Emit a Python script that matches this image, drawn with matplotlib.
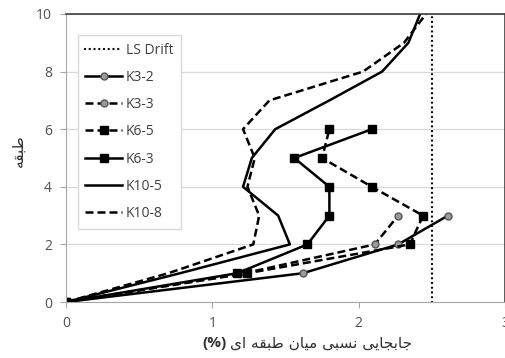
import matplotlib
matplotlib.use('Agg')
import matplotlib.pyplot as plt

# storey numbers and inter-storey drift (%)
floors_3 = [0, 1, 2, 3]
floors_6 = [0, 1, 2, 3, 4, 5, 6]
floors_10 = [0, 1, 2, 3, 4, 5, 6, 7, 8, 9, 10]

k3_2 = [0, 1.62, 2.27, 2.61]
k3_3 = [0, 1.22, 2.11, 2.27]
k6_5 = [0, 1.24, 2.35, 2.44, 2.09, 1.75, 1.80]
k6_3 = [0, 1.17, 1.65, 1.80, 1.80, 1.56, 2.09]
k10_5 = [0, 0.78, 1.53, 1.45, 1.21, 1.27, 1.43, 1.80, 2.16, 2.34, 2.42]
k10_8 = [0, 0.70, 1.28, 1.32, 1.24, 1.29, 1.21, 1.39, 2.03, 2.31, 2.46]
ls_drift = 2.5

x_ticks = [0, 1, 2, 3]
y_ticks = [0, 2, 4, 6, 8, 10]

# persian text, pre-shaped with presentation forms (matplotlib does no shaping)
jabejaei = "\uFE9F\uFE8E\uFE91\uFEA0\uFE8E\uFEF3\uFEF0"
nesbi = "\uFEE7\uFEB4\uFE92\uFEF0"
miyan = "\uFEE3\uFEF4\uFE8E\uFEE5"
tabaghe = "\uFEC3\uFE92\uFED8\uFEEA"
ei = "\uFE8D\uFEEF"
xlabel_fa = " ".join([jabejaei, nesbi, miyan, tabaghe, ei])[::-1]
ylabel_fa = tabaghe[::-1]

plt.rcParams['font.family'] = ['Open Sans', 'DejaVu Sans']

fig = plt.figure(figsize=(5.06, 3.58), dpi=100)
ax = fig.add_axes([0.1304, 0.1564, 0.8676, 0.8045])

lw = 1.8
dash = (0, (3.2, 1.6))
ax.plot([ls_drift, ls_drift], [0, 10], color='black', lw=1.7,
        linestyle=(0, (0.01, 2.0)), dash_capstyle='round', label='LS Drift')
ax.plot(k3_2, floors_3, color='black', lw=lw, marker='o', ms=5,
        mfc='#9a9a9a', mec='#555555', mew=1, label='K3-2')
ax.plot(k3_3, floors_3, color='black', lw=lw, linestyle=dash, marker='o', ms=5,
        mfc='#9a9a9a', mec='#555555', mew=1, label='K3-3')
ax.plot(k6_5, floors_6, color='black', lw=lw, linestyle=dash, marker='s', ms=5.5,
        mfc='black', mec='black', label='K6-5')
ax.plot(k6_3, floors_6, color='black', lw=lw, marker='s', ms=5.5,
        mfc='black', mec='black', label='K6-3')
ax.plot(k10_5, floors_10, color='black', lw=lw, label='K10-5')
ax.plot(k10_8, floors_10, color='black', lw=lw, linestyle=dash, label='K10-8')

ax.set_xlim(0, 3)
ax.set_ylim(0, 10)
ax.set_xticks(x_ticks)
ax.set_yticks(y_ticks)
ax.yaxis.grid(True, color='#d9d9d9', lw=0.9)
ax.set_axisbelow(True)

for s in ['left', 'bottom']:
    ax.spines[s].set_color('#a6a6a6')
for s in ['top', 'right']:
    ax.spines[s].set_color('#404040')
    ax.spines[s].set_linewidth(1.2)
ax.tick_params(axis='both', direction='out', length=4, color='#a6a6a6',
               labelsize=10, labelcolor='#505050', pad=6)

leg = ax.legend(loc='upper left', bbox_to_anchor=(0.027, 0.927), borderaxespad=0,
                fancybox=False, framealpha=1, edgecolor='#d9d9d9', fontsize=10,
                handlelength=2.6, handletextpad=0.3, labelspacing=0.88,
                borderpad=0.55)
for t in leg.get_texts():
    t.set_color('#404040')

fig.text(0.447, 0.03, "(%)", fontsize=11, fontweight='bold', ha='right',
         va='baseline', color='#303030')
fig.text(0.455, 0.03, xlabel_fa, fontsize=11, ha='left', va='baseline',
         color='#303030', family='DejaVu Sans')
fig.text(0.035, 0.58, ylabel_fa, fontsize=11, rotation=90, ha='center',
         va='center', color='#303030', family='DejaVu Sans')

fig.savefig('out.png', dpi=100)
